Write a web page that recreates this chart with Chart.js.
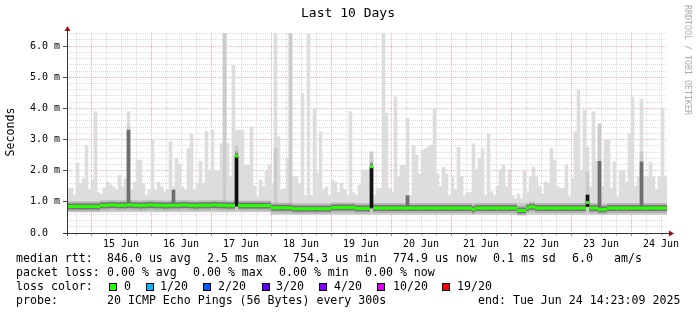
<!DOCTYPE html>
<html>
<head>
<meta charset="utf-8">
<script src="https://cdn.jsdelivr.net/npm/chart.js@4.4.1/dist/chart.umd.min.js"></script>
<style>
  html, body { margin: 0; padding: 0; background: #fff; }
  #wrap { width: 697px; height: 315px; }
</style>
</head>
<body>
<div id="wrap"><canvas id="smokeChart" width="697" height="315"></canvas></div>
<script>
// smokeping "Last 10 Days", ms, one bin = 1.2 h
const binHours = 1.2;
const spanHours = 240;
const endClockHours = 14 + 23 / 60 + 9 / 3600; // end: Tue Jun 24 14:23:09 2025

const maxRtt = [
  1.43, 1.43, 1.2, 2.25, 1.6, 1.75, 2.82, 1.4, 1.7, 3.89, 1.3, 1.25, 1.45, 1.64, 1.55, 1.48, 1.38, 1.86, 1.48, 1.75,
  3.89, 1.4, 1.64, 2.34, 2.34, 1.59, 1.2, 1.38, 2.98, 1.38, 1.64, 1.48, 1.33, 1.4, 2.93, 1.5, 2.39, 2.2, 1.48, 1.4,
  2.71, 3.17, 1.4, 1.6, 2.3, 1.6, 3.27, 2.03, 3.3, 1.99, 1.99, 2.87, 6.42, 2.87, 1.8, 5.38, 3.3, 3.3, 3.3, 2.17,
  2.17, 3.4, 1.5, 1.16, 1.7, 1.5, 2.0, 2.17, 1.6, 6.42, 3.09, 1.4, 1.43, 2.39, 6.42, 1.81, 1.81, 1.6, 4.48, 1.2,
  6.42, 1.2, 4.0, 1.91, 3.25, 1.4, 1.48, 1.2, 1.7, 1.64, 1.3, 1.59, 1.4, 1.2, 3.89, 1.3, 1.2, 1.54, 2.03, 2.03,
  2.03, 2.6, 1.2, 1.43, 1.43, 6.42, 3.84, 1.43, 1.3, 4.37, 1.81, 2.17, 2.17, 3.68, 1.2, 2.82, 2.5, 1.9, 2.65, 2.7,
  2.76, 2.82, 4.0, 1.9, 1.5, 2.12, 1.9, 1.2, 1.81, 1.38, 2.76, 1.81, 1.2, 1.3, 1.3, 2.87, 2.03, 2.39, 2.71, 1.2,
  3.17, 1.33, 1.2, 1.5, 2.03, 2.17, 1.48, 2.03, 1.2, 1.1, 1.25, 1.1, 1.99, 1.3, 1.81, 2.12, 1.8, 1.5, 1.25, 1.64,
  1.6, 2.71, 2.34, 1.5, 1.43, 1.43, 2.17, 1.16, 1.75, 3.25, 4.58, 2.03, 3.94, 2.76, 1.48, 3.89, 2.3, 3.5, 1.5, 2.98,
  2.98, 1.43, 2.28, 1.16, 2.0, 2.0, 1.64, 3.2, 4.37, 1.5, 1.8, 4.3, 1.8, 1.8, 2.28, 1.8, 1.4, 1.8, 4.0, 1.8
];

const medianRtt = [
  0.85, 0.85, 0.85, 0.85, 0.85, 0.85, 0.85, 0.85, 0.85, 0.85, 0.85, 0.89, 0.89, 0.89, 0.90, 0.90, 0.89, 0.89, 0.89, 0.89,
  0.90, 0.90, 0.89, 0.89, 0.88, 0.89, 0.89, 0.90, 0.90, 0.89, 0.89, 0.89, 0.88, 0.88, 0.89, 0.89, 0.89, 0.89, 0.90, 0.90,
  0.89, 0.89, 0.88, 0.88, 0.89, 0.89, 0.89, 0.89, 0.90, 0.90, 0.89, 0.89, 0.89, 0.88, 0.88, 0.88, 2.47, 0.88, 0.88, 0.88,
  0.88, 0.88, 0.88, 0.88, 0.88, 0.88, 0.88, 0.88, 0.81, 0.81, 0.81, 0.81, 0.81, 0.81, 0.81, 0.78, 0.78, 0.78, 0.78, 0.78,
  0.78, 0.78, 0.78, 0.78, 0.78, 0.78, 0.78, 0.78, 0.82, 0.82, 0.82, 0.82, 0.82, 0.82, 0.82, 0.82, 0.79, 0.79, 0.79, 0.79,
  0.79, 2.13, 0.80, 0.80, 0.80, 0.80, 0.80, 0.80, 0.80, 0.80, 0.80, 0.80, 0.80, 0.80, 0.80, 0.80, 0.80, 0.80, 0.80, 0.80,
  0.80, 0.80, 0.80, 0.80, 0.80, 0.80, 0.80, 0.80, 0.80, 0.80, 0.80, 0.80, 0.80, 0.80, 0.80, 0.76, 0.80, 0.80, 0.80, 0.80,
  0.80, 0.80, 0.80, 0.80, 0.80, 0.80, 0.80, 0.80, 0.80, 0.80, 0.72, 0.72, 0.72, 0.80, 0.84, 0.84, 0.80, 0.80, 0.80, 0.80,
  0.80, 0.80, 0.80, 0.80, 0.80, 0.80, 0.80, 0.80, 0.80, 0.80, 0.80, 0.80, 0.80, 0.98, 0.80, 0.80, 0.80, 0.76, 0.76, 0.76,
  0.80, 0.80, 0.80, 0.80, 0.80, 0.80, 0.80, 0.80, 0.80, 0.80, 0.80, 0.80, 0.80, 0.80, 0.80, 0.80, 0.80, 0.80, 0.80, 0.80
];

// slowly varying edges of the smoke, as [bin count, value] runs
const minRttRuns = [[68, 0.68], [132, 0.6]];
const upperRttRuns = [[68, 1.0], [132, 0.94]];

// columns where more of the pings were slow (darker smoke)
const upperBins = [20, 52, 56, 69, 74, 101, 173, 177, 191];
const upperTops = [3.4, 6.42, 2.8, 2.72, 6.42, 2.6, 1.96, 3.5, 2.6];
const darkBins = [20, 35, 113, 177, 191];
const darkTops = [3.3, 1.38, 1.2, 2.3, 2.28];
const blackBins = [56, 101, 173];
const blackLows = [0.86, 0.8, 0.85];
const blackTops = [2.47, 2.13, 1.22];

const dayLabels = ['15 Jun', '16 Jun', '17 Jun', '18 Jun', '19 Jun', '20 Jun', '21 Jun', '22 Jun', '23 Jun', '24 Jun'];
const yTickLabels = ['0.0  ', '1.0 m', '2.0 m', '3.0 m', '4.0 m', '5.0 m', '6.0 m'];

const rttStats = ['846.0 us avg', '2.5 ms max', '754.3 us min', '774.9 us now', '0.1 ms sd', '6.0', 'am/s'];
const lossStats = ['0.00 % avg', '0.00 % max', '0.00 % min', '0.00 % now'];
const lossLabels = ['0', '1/20', '2/20', '3/20', '4/20', '10/20', '19/20'];
const lossColors = ['#26ff00', '#00b8ff', '#0059ff', '#5e00ff', '#7e00ff', '#dd00ff', '#ff0000'];
const probeText = '20 ICMP Echo Pings (56 Bytes) every 300s';
const endText = 'end: Tue Jun 24 14:23:09 2025';

const MONO = '"DejaVu Sans Mono", "Liberation Mono", monospace';
const MAJOR_GRID = 'rgba(235,110,110,0.55)';
const MINOR_GRID = 'rgba(175,175,175,0.45)';

function expandRuns(runs) {
  const out = [];
  runs.forEach(([n, v]) => { for (let i = 0; i < n; i++) out.push(v); });
  return out;
}

const minRtt = expandRuns(minRttRuns);
const upperRtt = expandRuns(upperRttRuns);
upperBins.forEach((b, i) => { upperRtt[b] = upperTops[i]; });

const binX = (i) => (i + 0.5) * binHours;

// x ticks every 6 h, aligned on midnight
const firstTick = (spanHours - endClockHours) % 6;
const xTickValues = [];
for (let t = firstTick; t < spanHours; t += 6) xTickValues.push(t);
const hoursToMidnight = (t) => (((spanHours - endClockHours - t) % 24) + 24) % 24;
const isMidnight = (t) => { const h = hoursToMidnight(t); return h < 0.01 || h > 23.99; };
const isNoon = (t) => Math.abs(hoursToMidnight(t) - 12) < 0.01;

const yTickValues = [];
for (let k = 0; k <= 32; k++) yTickValues.push(k / 5);

const smokeText = {
  id: 'smokeText',
  afterDraw(chart) {
    const ctx = chart.ctx;
    const a = chart.chartArea;
    ctx.save();

    // axes with arrow heads
    ctx.strokeStyle = '#333';
    ctx.lineWidth = 1;
    ctx.beginPath();
    ctx.moveTo(a.left - 4, a.bottom + 0.5);
    ctx.lineTo(a.right + 3, a.bottom + 0.5);
    ctx.moveTo(a.left + 0.5, a.bottom + 3);
    ctx.lineTo(a.left + 0.5, a.top - 3);
    ctx.stroke();
    ctx.fillStyle = '#a01010';
    ctx.beginPath();
    ctx.moveTo(a.left + 0.5, a.top - 7);
    ctx.lineTo(a.left - 2.5, a.top - 2);
    ctx.lineTo(a.left + 3.5, a.top - 2);
    ctx.fill();
    ctx.beginPath();
    ctx.moveTo(a.right + 7, a.bottom + 0.5);
    ctx.lineTo(a.right + 2, a.bottom - 2.5);
    ctx.lineTo(a.right + 2, a.bottom + 3.5);
    ctx.fill();

    ctx.fillStyle = '#000';
    ctx.textBaseline = 'middle';
    ctx.textAlign = 'center';
    ctx.font = '13px ' + MONO;
    ctx.fillText('Last 10 Days', 348, 14);

    // y axis title
    ctx.save();
    ctx.translate(11, 132);
    ctx.rotate(-Math.PI / 2);
    ctx.font = '11.6px ' + MONO;
    ctx.fillText('Seconds', 0, 0);
    ctx.restore();

    // watermark
    ctx.save();
    ctx.translate(687, 5);
    ctx.rotate(Math.PI / 2);
    ctx.textAlign = 'left';
    ctx.fillStyle = '#aaa';
    ctx.font = '8.3px ' + MONO;
    ctx.fillText('RRDTOOL / TOBI OETIKER', 0, 0);
    ctx.restore();

    // legend lines
    ctx.textAlign = 'left';
    ctx.font = '11.6px ' + MONO;
    ctx.fillText('median rtt:', 16, 259);
    [107, 207, 293, 393, 493, 572, 614].forEach((x, i) => ctx.fillText(rttStats[i], x, 259));
    ctx.fillText('packet loss:', 16, 273);
    [107, 193, 279, 365].forEach((x, i) => ctx.fillText(lossStats[i], x, 273));
    ctx.fillText('loss color:', 16, 287);
    const boxX = [109, 146, 203, 262, 319, 377, 442];
    const labX = [124, 160, 218, 276, 334, 393, 457];
    lossLabels.forEach((lab, i) => {
      ctx.fillStyle = lossColors[i];
      ctx.fillRect(boxX[i], 283, 8, 8);
      ctx.strokeStyle = '#000';
      ctx.strokeRect(boxX[i] + 0.5, 283.5, 7, 7);
      ctx.fillStyle = '#000';
      ctx.fillText(lab, labX[i], 287);
    });
    ctx.fillText('probe:', 16, 301);
    ctx.fillText(probeText, 107, 301);
    ctx.fillText(endText, 478, 301);
    ctx.restore();
  }
};

const barBase = { type: 'bar', grouped: false, barPercentage: 1, categoryPercentage: 1, borderWidth: 0 };
const medianMarks = (width, color, order) => ({
  type: 'line',
  data: medianRtt.map((v, i) => ({ x: binX(i), y: v })),
  showLine: false,
  pointStyle: 'line',
  pointRadius: 1.5,
  pointBorderWidth: width,
  pointBorderColor: color,
  pointBackgroundColor: color,
  order
});

new Chart(document.getElementById('smokeChart'), {
  type: 'bar',
  data: {
    datasets: [
      Object.assign({}, barBase, {
        label: 'smoke',
        data: maxRtt.map((v, i) => ({ x: binX(i), y: [minRtt[i], v] })),
        backgroundColor: '#dddddd',
        order: 10
      }),
      Object.assign({}, barBase, {
        label: 'smoke dense',
        data: upperRtt.map((v, i) => ({ x: binX(i), y: [minRtt[i], v] })),
        backgroundColor: '#cbcbcb',
        order: 9
      }),
      medianMarks(10, 'rgba(150,150,150,0.45)', 8),
      medianMarks(6, '#767676', 7),
      Object.assign({}, barBase, {
        label: 'dark',
        data: darkBins.map((b, i) => ({ x: binX(b), y: [medianRtt[b], darkTops[i]] })),
        backgroundColor: '#6e6e6e',
        order: 6
      }),
      Object.assign({}, barBase, {
        label: 'black',
        data: blackBins.map((b, i) => ({ x: binX(b), y: [blackLows[i], blackTops[i]] })),
        backgroundColor: '#111111',
        order: 5
      }),
      medianMarks(3, lossColors[0], 0)
    ]
  },
  options: {
    responsive: false,
    animation: false,
    events: [],
    layout: { padding: { left: 0, top: 33, right: 30, bottom: 62 } },
    plugins: { legend: { display: false }, tooltip: { enabled: false }, title: { display: false } },
    scales: {
      x: {
        type: 'linear',
        min: 0,
        max: spanHours,
        bounds: 'data',
        offset: false,
        z: 1,
        afterFit: (s) => { s.height = 20; },
        afterBuildTicks: (s) => { s.ticks = xTickValues.map(v => ({ value: v })); },
        border: { display: false, dash: [1, 1] },
        grid: {
          offset: false,
          tickLength: 3,
          color: (c) => (c.tick && isMidnight(c.tick.value)) ? MAJOR_GRID : MINOR_GRID,
          tickColor: (c) => (c.tick && isMidnight(c.tick.value)) ? 'rgba(230,90,90,0.8)' : 'rgba(150,150,150,0.6)'
        },
        ticks: {
          autoSkip: false,
          maxRotation: 0,
          padding: 2,
          color: '#000',
          font: { family: MONO, size: 10 },
          callback: (v) => {
            if (!isNoon(v)) return '';
            return dayLabels[Math.round((v - firstTick - 18) / 24)];
          }
        }
      },
      y: {
        type: 'linear',
        min: 0,
        max: 6.42,
        bounds: 'data',
        z: 1,
        afterFit: (s) => { s.width = 67; },
        afterBuildTicks: (s) => { s.ticks = yTickValues.map(v => ({ value: v })); },
        border: { display: false, dash: [1, 1] },
        grid: {
          tickLength: 4,
          color: (c) => (c.tick && Math.round(c.tick.value * 5) % 5 === 0) ? MAJOR_GRID : MINOR_GRID,
          tickColor: (c) => (c.tick && Math.round(c.tick.value * 5) % 5 === 0) ? '#555' : 'rgba(0,0,0,0)'
        },
        ticks: {
          autoSkip: false,
          padding: 3,
          color: '#000',
          font: { family: MONO, size: 10 },
          callback: (v) => {
            const k = Math.round(v * 5);
            return k % 5 === 0 ? yTickLabels[k / 5] : '';
          }
        }
      }
    }
  },
  plugins: [smokeText]
});
</script>
</body>
</html>
